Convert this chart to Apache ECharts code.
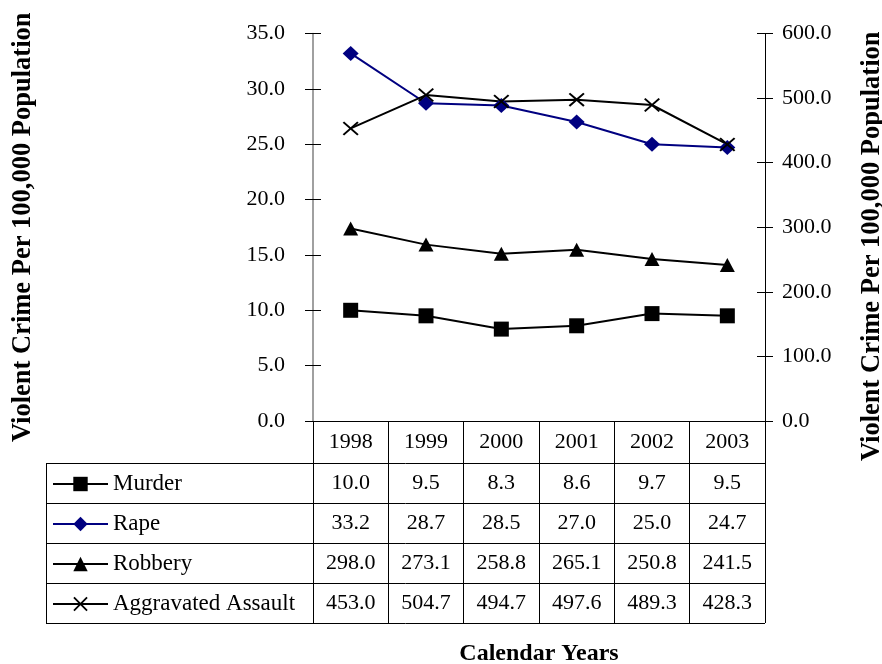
<!DOCTYPE html>
<html>
<head>
<meta charset="utf-8">
<script src="https://cdn.jsdelivr.net/npm/echarts@6/dist/echarts.min.js"></script>
<style>
  html, body { margin: 0; padding: 0; background: #fff; }
  #chart { width: 882px; height: 664px; }
</style>
</head>
<body>
<div id="chart"></div>
<script>
// ---- data ----
const years = ['1998', '1999', '2000', '2001', '2002', '2003'];
const murder = [10.0, 9.5, 8.3, 8.6, 9.7, 9.5];            // left axis
const rape = [33.2, 28.7, 28.5, 27.0, 25.0, 24.7];          // left axis
const robbery = [298.0, 273.1, 258.8, 265.1, 250.8, 241.5]; // right axis
const assault = [453.0, 504.7, 494.7, 497.6, 489.3, 428.3]; // right axis
const seriesNames = ['Murder', 'Rape', 'Robbery', 'Aggravated Assault'];
const leftRange = { min: 0, max: 35, step: 5 };
const rightRange = { min: 0, max: 600, step: 100 };
const yTitle = 'Violent Crime Per 100,000 Population';
const xTitle = 'Calendar Years';

// ---- layout ----
const FONT = '"Liberation Serif", "Times New Roman", serif';
const FS = 22;
const TITLE_FS = 26.5;
const GRID = { left: 313, right: 117, top: 33.5, bottom: 243, containLabel: false, outerBoundsMode: 'none' };
const PLOT_RIGHT = 882 - GRID.right;
const PLOT_BOTTOM = 664 - GRID.bottom;
const HEADER_H = 42;
const ROW_H = 40;
const TABLE_LEFT = 46;
const LABEL_MID = 21;

const crossPath = 'path://M0,9L9,0L50,41L91,0L100,9L59,50L100,91L91,100L50,59L9,100L0,91L41,50Z';
const fmt = v => v.toFixed(1);
const txt = { fontFamily: FONT, fontSize: FS, color: '#000' };
const titleTxt = { fontFamily: FONT, fontSize: TITLE_FS, color: '#000', fontWeight: 'bold' };

// table value rows, one extra x axis per series
const tableRows = [murder, rape, robbery, assault];
const rowAxes = tableRows.map((vals, i) => ({
  type: 'category',
  gridIndex: 0,
  position: 'bottom',
  offset: HEADER_H - 1 + ROW_H * i,
  data: vals.map(fmt),
  axisLine: { show: false },
  axisTick: { show: false },
  splitLine: { show: false },
  axisLabel: Object.assign({ margin: LABEL_MID, verticalAlign: 'middle', interval: 0 }, txt)
}));

// table grid lines
const tableBottom = PLOT_BOTTOM + HEADER_H + ROW_H * tableRows.length;
const graphics = [];
for (let i = 0; i <= tableRows.length; i++) {
  const y = Math.round(PLOT_BOTTOM + HEADER_H + ROW_H * i) + 0.5;
  graphics.push({
    type: 'line', silent: true,
    shape: { x1: TABLE_LEFT, y1: y, x2: PLOT_RIGHT, y2: y },
    style: { stroke: '#000', lineWidth: 1 }
  });
}
graphics.push({
  type: 'line', silent: true,
  shape: { x1: TABLE_LEFT + 0.5, y1: PLOT_BOTTOM + HEADER_H, x2: TABLE_LEFT + 0.5, y2: tableBottom + 0.5 },
  style: { stroke: '#000', lineWidth: 1 }
});

function yAxisBase(range, pos) {
  return {
    type: 'value', position: pos, min: range.min, max: range.max, interval: range.step,
    splitLine: { show: false }
  };
}

const option = {
  backgroundColor: '#fff',
  animation: false,
  grid: GRID,
  legend: {
    orient: 'vertical',
    left: 52, top: 472.5,
    padding: 0,
    itemWidth: 55, itemHeight: 18, itemGap: 17,
    data: seriesNames,
    textStyle: Object.assign({}, txt, { fontSize: 23, lineHeight: 21 })
  },
  xAxis: [{
    type: 'category',
    position: 'bottom',
    data: years,
    boundaryGap: true,
    axisLine: { show: true, lineStyle: { color: '#000', width: 1 } },
    axisTick: { show: true, interval: 0, length: tableBottom - PLOT_BOTTOM, lineStyle: { color: '#000', width: 1 } },
    axisLabel: Object.assign({ margin: LABEL_MID, verticalAlign: 'middle', interval: 0 }, txt),
    splitLine: { show: false },
    name: xTitle,
    nameLocation: 'middle',
    nameGap: 221,
    nameTextStyle: Object.assign({}, titleTxt, { fontSize: 24 })
  }].concat(rowAxes),
  yAxis: [
    Object.assign(yAxisBase(leftRange, 'left'), {
      axisLine: { show: true, lineStyle: { color: '#808080', width: 1.5 } },
      axisTick: { show: true, length: 8, lineStyle: { color: '#000' } },
      axisLabel: Object.assign({ margin: 28, formatter: fmt }, txt),
      name: yTitle, nameLocation: 'middle', nameGap: 276, nameRotate: 90,
      nameTextStyle: titleTxt
    }),
    Object.assign(yAxisBase(rightRange, 'right'), {
      axisLine: { show: true, lineStyle: { color: '#000', width: 1 } },
      axisTick: { show: true, length: 8, lineStyle: { color: '#000' } },
      axisLabel: Object.assign({ margin: 17, formatter: fmt }, txt),
      name: yTitle, nameLocation: 'middle', nameGap: 94, nameRotate: 90,
      nameTextStyle: Object.assign({}, titleTxt, { padding: [0, 38, 0, 0] })
    }),
    // inner half of the crossing tick marks
    Object.assign(yAxisBase(leftRange, 'left'), {
      axisLine: { show: false },
      axisTick: { show: true, inside: true, length: 8, lineStyle: { color: '#000' } },
      axisLabel: { show: false }
    }),
    Object.assign(yAxisBase(rightRange, 'right'), {
      axisLine: { show: false },
      axisTick: { show: true, inside: true, length: 8, lineStyle: { color: '#000' } },
      axisLabel: { show: false }
    })
  ],
  series: [
    {
      name: seriesNames[0], type: 'line', yAxisIndex: 0, data: murder,
      symbol: 'rect', symbolSize: 15,
      itemStyle: { color: '#000' }, lineStyle: { color: '#000', width: 2 }
    },
    {
      name: seriesNames[1], type: 'line', yAxisIndex: 0, data: rape,
      symbol: 'diamond', symbolSize: [16, 15],
      itemStyle: { color: '#000080' }, lineStyle: { color: '#000080', width: 2 }
    },
    {
      name: seriesNames[2], type: 'line', yAxisIndex: 1, data: robbery,
      symbol: 'triangle', symbolSize: [15, 14],
      itemStyle: { color: '#000' }, lineStyle: { color: '#000', width: 2 }
    },
    {
      name: seriesNames[3], type: 'line', yAxisIndex: 1, data: assault,
      symbol: crossPath, symbolSize: [16, 14],
      itemStyle: { color: '#000' }, lineStyle: { color: '#000', width: 2 }
    }
  ],
  graphic: graphics
};

const chart = echarts.init(document.getElementById('chart'), null, { renderer: 'canvas' });
chart.setOption(option);
</script>
</body>
</html>
